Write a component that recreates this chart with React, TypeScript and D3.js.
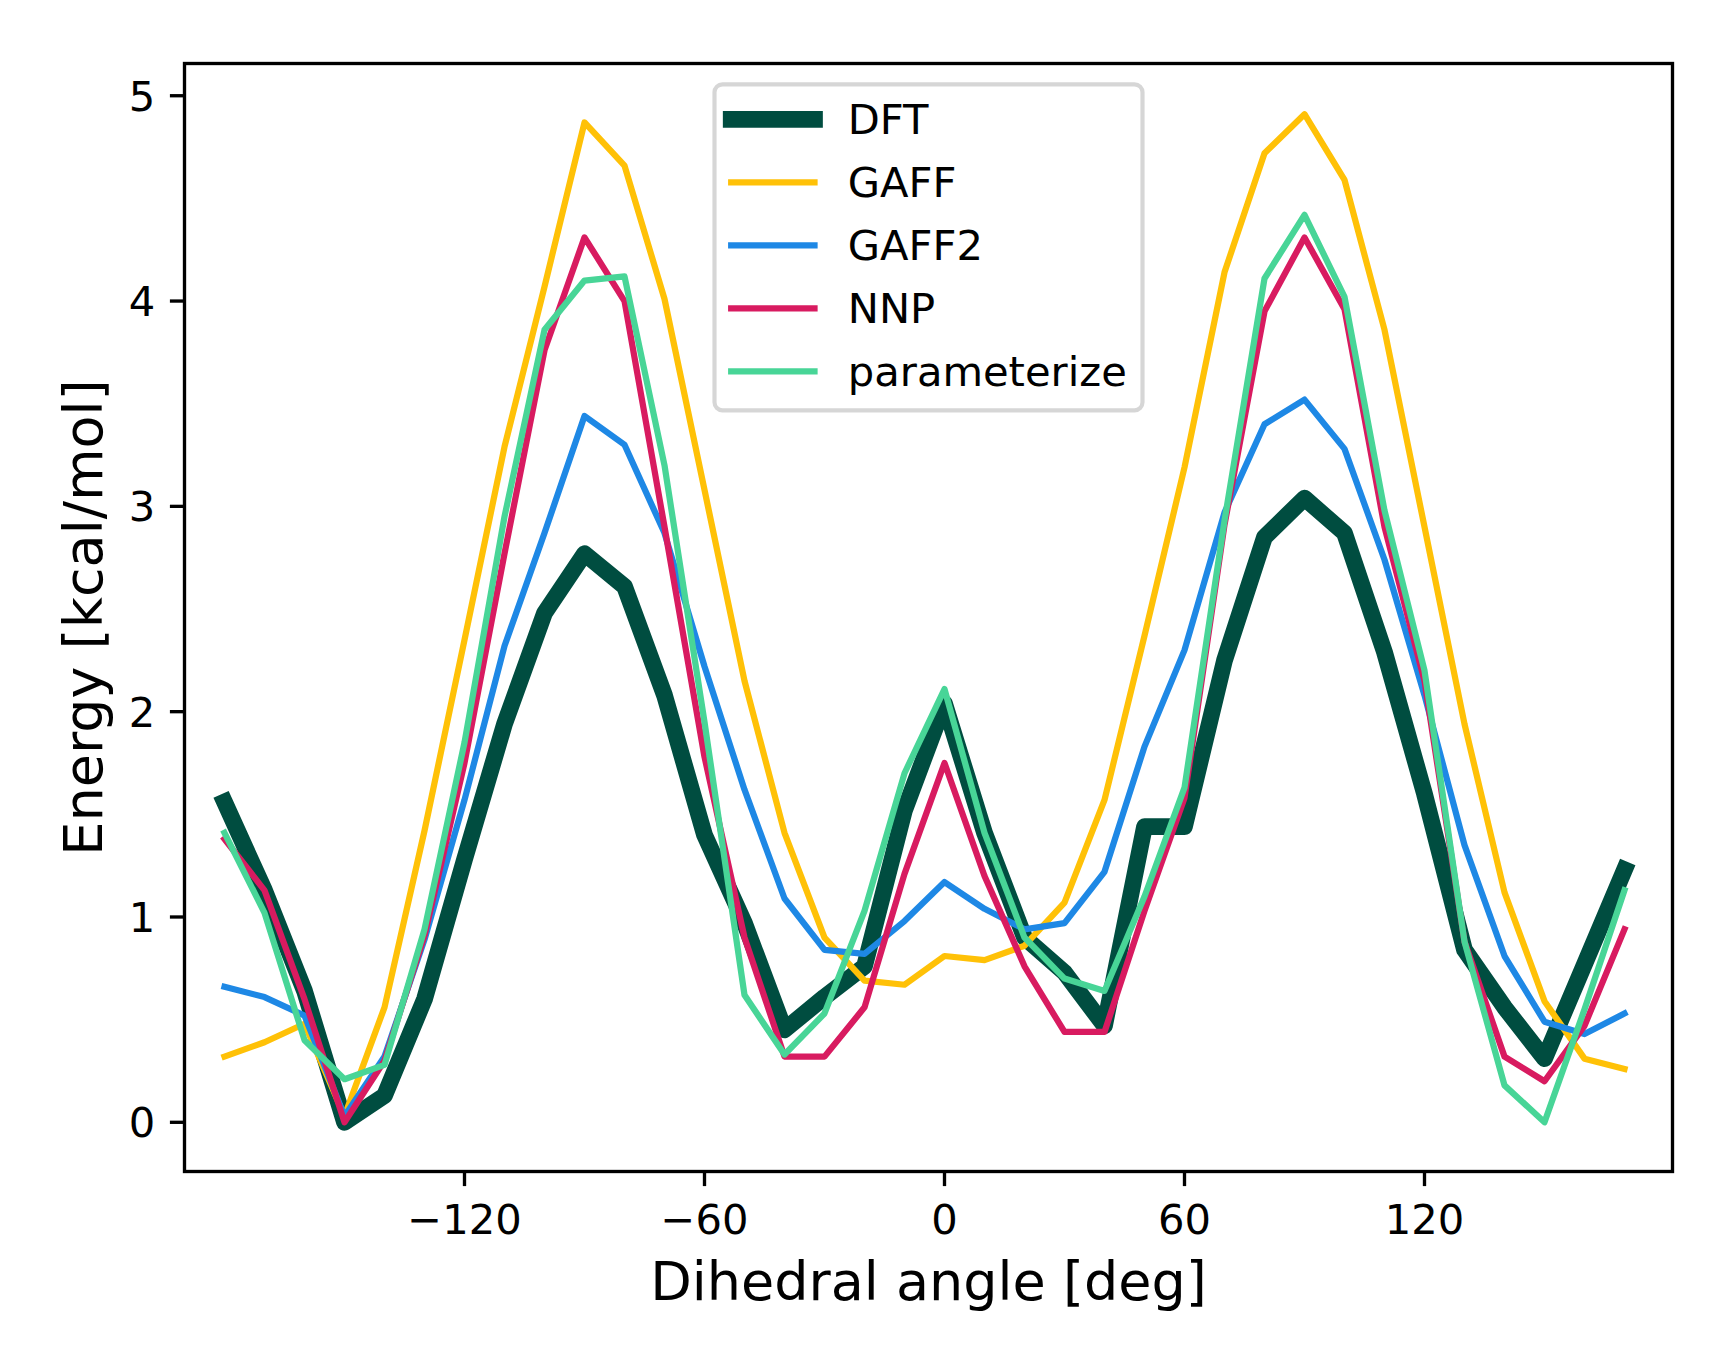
import React from 'react';
import * as d3 from 'd3';

// Dihedral scan angles (deg)
const angles = [
  -180, -170, -160, -150, -140, -130, -120, -110, -100, -90, -80, -70,
  -60, -50, -40, -30, -20, -10, 0, 10, 20, 30, 40, 50,
  60, 70, 80, 90, 100, 110, 120, 130, 140, 150, 160, 170,
];

// Energies in kcal/mol
const dft = [
  1.56, 1.13, 0.64, 0.0, 0.13, 0.6, 1.28, 1.94, 2.48, 2.77, 2.61, 2.08,
  1.4, 0.97, 0.45, 0.61, 0.76, 1.52, 2.04, 1.41, 0.9, 0.73, 0.47, 1.44,
  1.44, 2.25, 2.85, 3.04, 2.87, 2.29, 1.6, 0.84, 0.56, 0.31, 0.77, 1.23,
];
const gaff = [
  0.32, 0.39, 0.48, 0.03, 0.56, 1.42, 2.35, 3.29, 4.07, 4.87, 4.66, 4.01,
  3.08, 2.15, 1.41, 0.9, 0.69, 0.67, 0.81, 0.79, 0.86, 1.07, 1.57, 2.37,
  3.19, 4.14, 4.72, 4.91, 4.59, 3.86, 2.9, 1.94, 1.12, 0.59, 0.31, 0.26,
];
const gaff2 = [
  0.66, 0.61, 0.52, 0.03, 0.32, 0.89, 1.57, 2.32, 2.87, 3.44, 3.3, 2.87,
  2.22, 1.62, 1.09, 0.84, 0.82, 0.98, 1.17, 1.04, 0.94, 0.97, 1.22, 1.83,
  2.3, 2.97, 3.4, 3.52, 3.28, 2.74, 2.08, 1.35, 0.81, 0.49, 0.43, 0.53,
];
const nnp = [
  1.38, 1.13, 0.6, 0.0, 0.3, 0.91, 1.75, 2.77, 3.76, 4.31, 4.0, 2.9,
  1.78, 0.9, 0.32, 0.32, 0.56, 1.21, 1.75, 1.2, 0.76, 0.44, 0.44, 1.03,
  1.58, 2.91, 3.95, 4.31, 3.96, 2.9, 2.15, 0.88, 0.32, 0.2, 0.47, 0.94,
];
const parameterize = [
  1.41, 1.02, 0.4, 0.21, 0.28, 0.94, 1.85, 2.95, 3.86, 4.1, 4.12, 3.2,
  1.95, 0.62, 0.33, 0.53, 1.03, 1.7, 2.11, 1.41, 0.9, 0.7, 0.64, 1.1,
  1.63, 2.93, 4.11, 4.42, 4.02, 2.98, 2.2, 0.88, 0.18, 0.0, 0.55, 1.13,
];

const seriesNames = ['DFT', 'GAFF', 'GAFF2', 'NNP', 'parameterize'];
const seriesColors = ['#004d40', '#ffc107', '#1e88e5', '#d81b60', '#48d597'];
const seriesWidths = [16.7, 6.25, 6.25, 6.25, 6.25];
const seriesValues = [dft, gaff, gaff2, nnp, parameterize];

const xTicks = [-120, -60, 0, 60, 120];
const yTicks = [0, 1, 2, 3, 4, 5];

const W = 1735;
const H = 1372;
const FONT = '"DejaVu Sans", sans-serif';

const App: React.FC = () => {
  const left = 184.5;
  const right = 1672.5;
  const top = 63.5;
  const bottom = 1171.5;

  const x = d3.scaleLinear().domain([-190, 182]).range([left, right]);
  const y = d3.scaleLinear().domain([-0.2396, 5.157]).range([bottom, top]);

  const line = d3.line<number>()
    .x((_, i) => x(angles[i]))
    .y(d => y(d));

  const tickLen = 14.6;
  const fs = 41.67;

  // legend geometry (matplotlib upper center)
  const legW = 428;
  const legX = (left + right) / 2 - legW / 2;
  const legY = top + 20.8;
  const rowH = 63;
  const legH = 326;

  return (
    <svg
      width={W}
      height={H}
      viewBox={`0 0 ${W} ${H}`}
      style={{ position: 'absolute', left: 0, top: 0, background: '#fff' }}
      fontFamily={FONT}
    >
      <defs>
        <clipPath id="plot-clip">
          <rect x={left} y={top} width={right - left} height={bottom - top} />
        </clipPath>
      </defs>
      <rect x={0} y={0} width={W} height={H} fill="#fff" />

      <g clipPath="url(#plot-clip)">
        {seriesValues.map((vals, k) => (
          <path
            key={seriesNames[k]}
            d={line(vals) || ''}
            fill="none"
            stroke={seriesColors[k]}
            strokeWidth={seriesWidths[k]}
            strokeLinecap="square"
            strokeLinejoin="round"
          />
        ))}
      </g>

      {/* spines */}
      <rect
        x={left}
        y={top}
        width={right - left}
        height={bottom - top}
        fill="none"
        stroke="#000"
        strokeWidth={3.33}
        strokeLinejoin="miter"
      />

      {/* x ticks */}
      {xTicks.map(t => (
        <g key={'x' + t}>
          <line x1={x(t)} x2={x(t)} y1={bottom} y2={bottom + tickLen} stroke="#000" strokeWidth={3.33} />
          <text x={x(t)} y={1234} fontSize={fs} textAnchor="middle" fill="#000">
            {t < 0 ? '\u2212' + Math.abs(t) : String(t)}
          </text>
        </g>
      ))}

      {/* y ticks */}
      {yTicks.map(t => (
        <g key={'y' + t}>
          <line x1={left - tickLen} x2={left} y1={y(t)} y2={y(t)} stroke="#000" strokeWidth={3.33} />
          <text x={left - tickLen - 14.6} y={y(t)} dy="0.36em" fontSize={fs} textAnchor="end" fill="#000">
            {t}
          </text>
        </g>
      ))}

      {/* axis labels */}
      <text x={(left + right) / 2} y={1300} fontSize={54} textAnchor="middle" fill="#000">
        Dihedral angle [deg]
      </text>
      <text
        transform={`translate(102, ${(top + bottom) / 2}) rotate(-90)`}
        fontSize={54}
        textAnchor="middle"
        fill="#000"
      >
        Energy [kcal/mol]
      </text>

      {/* legend */}
      <g>
        <rect
          x={legX}
          y={legY}
          width={legW}
          height={legH}
          rx={8}
          ry={8}
          fill="#fff"
          fillOpacity={0.8}
          stroke="#cccccc"
          strokeOpacity={0.8}
          strokeWidth={4.17}
        />
        {seriesNames.map((name, k) => {
          const cy = 119.3 + k * rowH;
          const hx = legX + 16.7;
          return (
            <g key={'leg' + name}>
              <line
                x1={hx}
                x2={hx + 83.3}
                y1={cy}
                y2={cy}
                stroke={seriesColors[k]}
                strokeWidth={seriesWidths[k]}
                strokeLinecap="square"
              />
              <text x={hx + 83.3 + 33.3} y={cy} dy="0.36em" fontSize={fs} fill="#000">
                {name}
              </text>
            </g>
          );
        })}
      </g>
    </svg>
  );
};

export default App;
